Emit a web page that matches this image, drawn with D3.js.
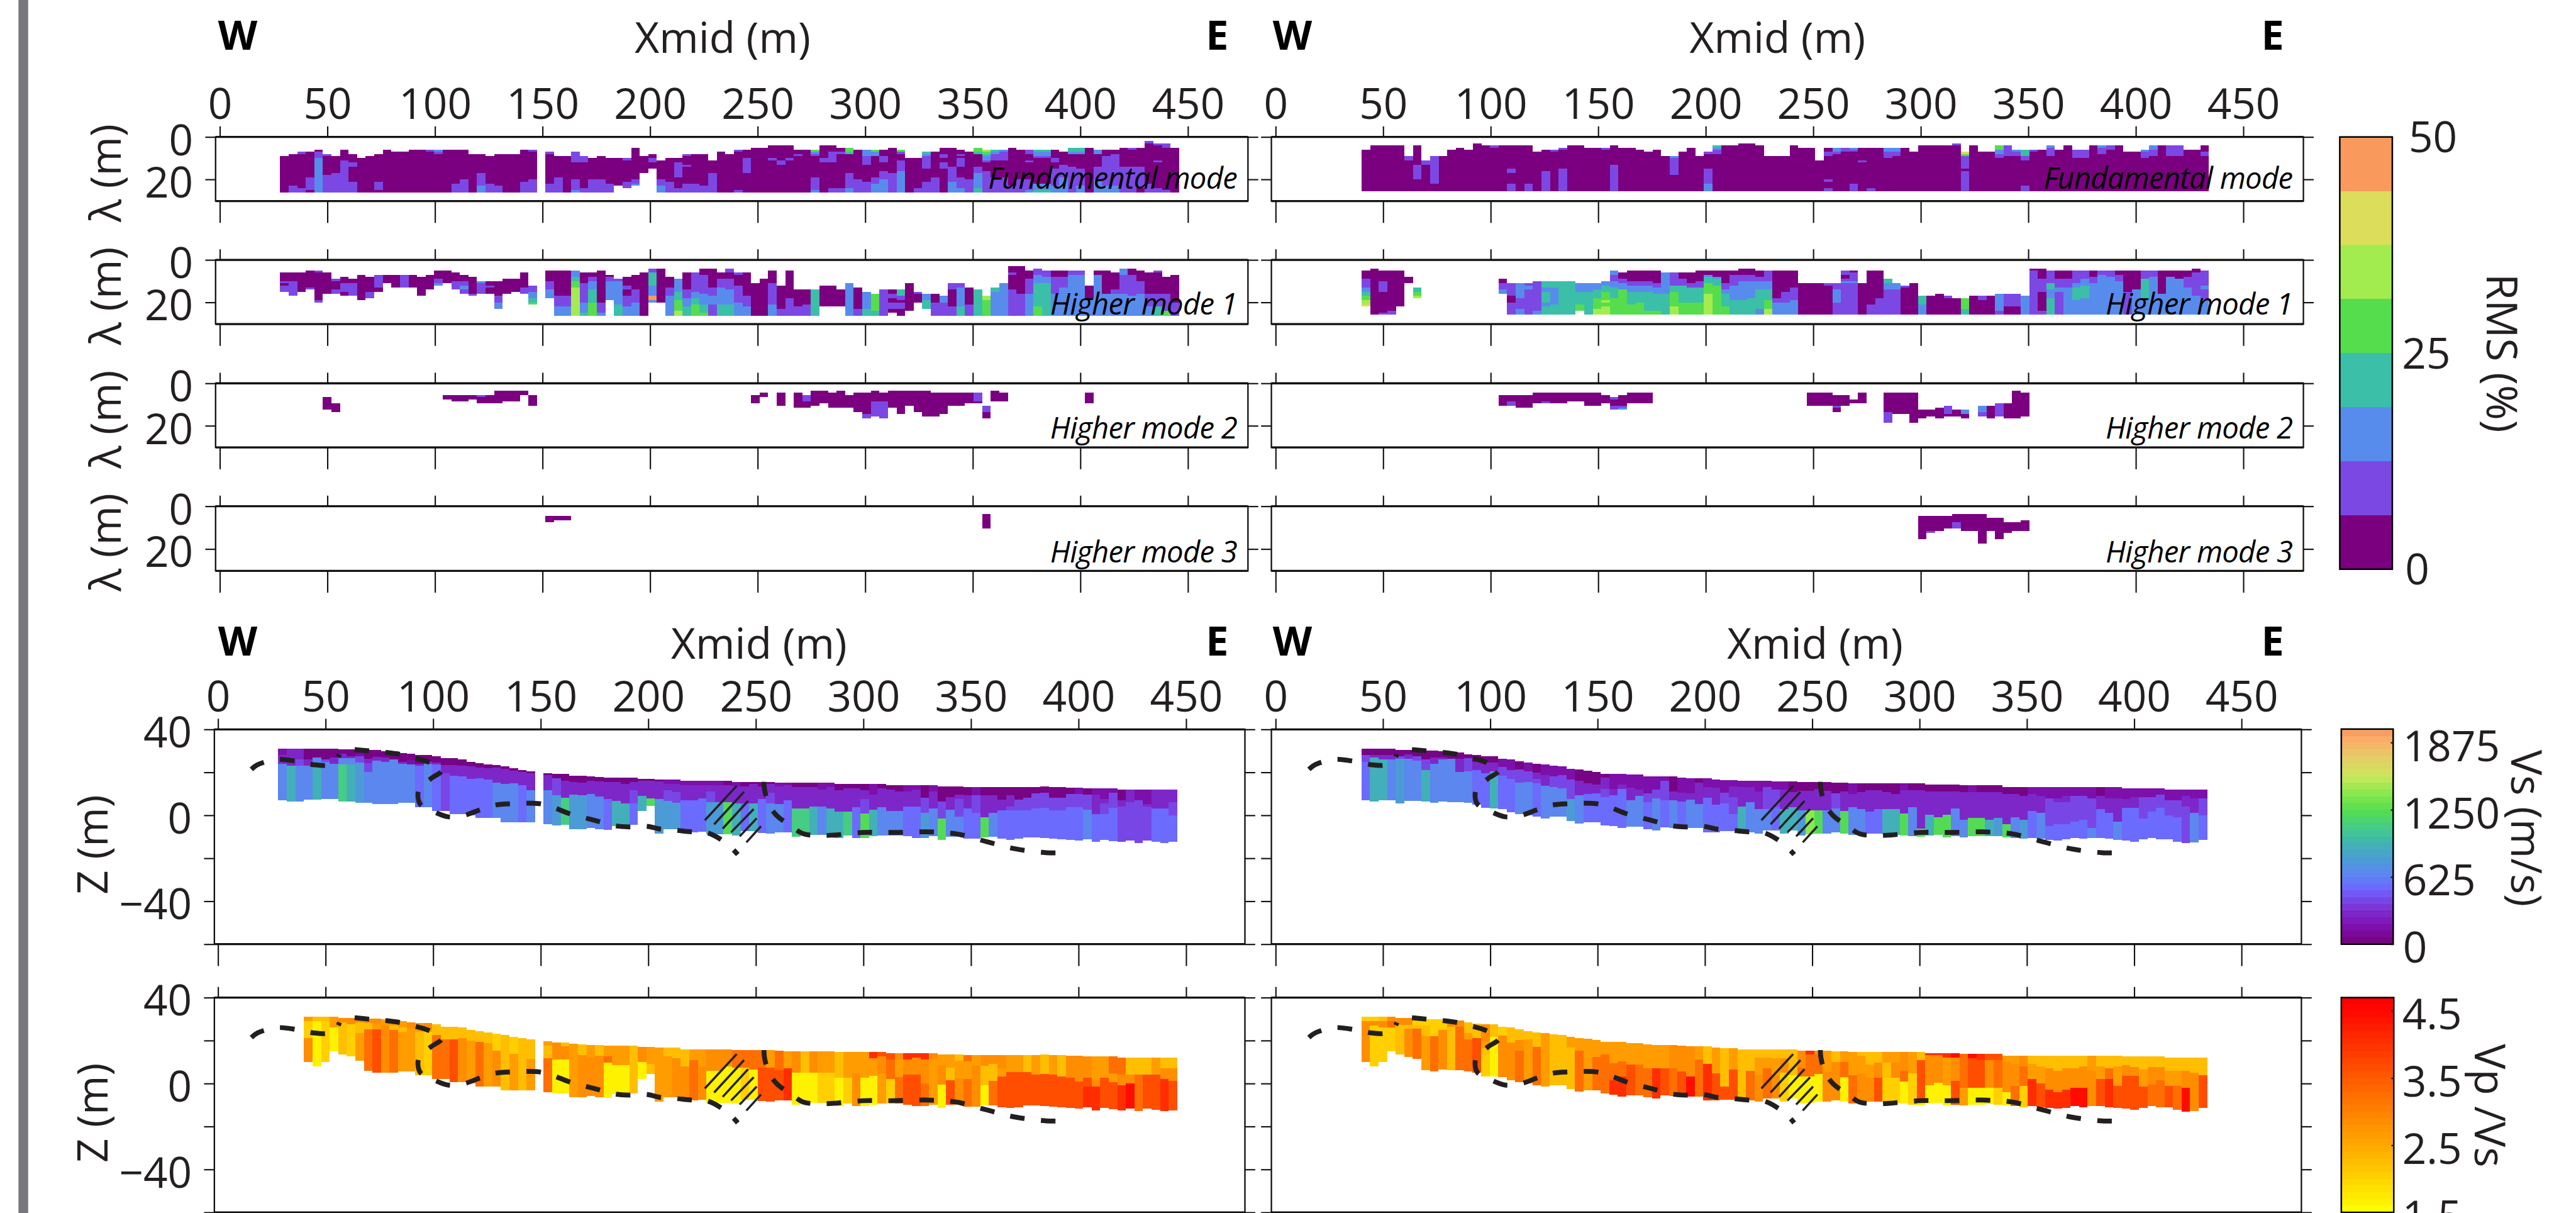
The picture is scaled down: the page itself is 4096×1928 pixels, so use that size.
<!DOCTYPE html>
<html>
<head>
<meta charset="utf-8">
<script src="https://d3js.org/d3.v7.min.js"></script>
<style>
  html, body { margin: 0; padding: 0; background: #fff; overflow: hidden; }
  text { font-family: "Open Sans", sans-serif; fill: #231f20; }
</style>
</head>
<body>
<div id="chart"></div>
<script>
////////
// Axis values and labels
let xTicks = [0, 50, 100, 150, 200, 250, 300, 350, 400, 450];
let lambdaTicks = [0, 20];
let zTicks = [40, 20, 0, -20, -40, -60];
let zLabels = [40, 0, -40];
let rmsTicks = [0, 25, 50];
let vsTicks = [0, 625, 1250, 1875];
let ratioTicks = [1.5, 2.5, 3.5, 4.5];

let rmsColors = ["#7a0080", "#7c48e4", "#588cec", "#3bbfa8", "#56dd4e", "#a3ec50", "#dddd5c", "#f99a5c"];
let vsStops = [0, 190, 380, 510, 660, 800, 960, 1120, 1240, 1400, 1560, 1760, 1920, 2000];
let vsStopColors = ["#76007c", "#7e12b4", "#7c3ee0", "#6e66ff", "#5a88ee", "#4a9ed4", "#3fb8ac", "#48d07c", "#56dd4e", "#88e84c", "#cce85c", "#e8c868", "#ffa868", "#f09a5c"];
let ratioStops = [1.5, 2.5, 3.5, 4.5, 4.7];
let ratioStopColors = ["#ffff00", "#ffa800", "#ff5a00", "#ff0800", "#ff0000"];

// Value of each letter used in the model columns below
let vsLetters = { a: 60, b: 170, c: 310, d: 420, e: 510, f: 640, g: 780, h: 930, i: 1090, j: 1240, k: 1400 };
let ratioLetters = { a: 1.6, b: 2.0, c: 2.3, d: 2.6, e: 2.9, f: 3.2, g: 3.6, h: 4.0, i: 4.4 };

////////
// Misfit cells, one string per column: "lambda:class ..." and x means empty.
// The class is the colour band of the RMS bar (0 to 7).
let fundW = ["9:0","8:0 23:1","7:1 8:0 24:1","7:0 19:1 25:0","6:0 7:1 10:2","8:1 9:0 18:1","9:0 17:1","6:0 11:1","8:0 12:1 14:0 21:1","10:0","9:0","8:0 21:1 25:0","6:0","7:0","7:0","6:0","6:0","6:1 7:0","6:2 7:1 8:0","6:0","6:0 22:1","6:0 20:1","8:0","8:0 17:1 23:2","9:0 22:1","8:0 23:1","8:0","8:0","6:0 21:1","6:1 7:0 20:1","","7:1 8:0 22:1","9:0 19:1","9:0","7:1 12:0 20:1 25:2","9:1 12:0 24:1","10:0 20:1","9:0 20:1","10:0 22:1","10:0 23:x","10:1 11:0 21:1 24:x","5:0 20:1 22:2 23:x","9:0 17:x","8:0 10:1 12:0 15:x","11:0 20:1 23:2","10:0 21:1","10:0 12:1 19:0 24:1","8:1 9:0 13:1 14:0 22:1","8:0 22:1","8:0 23:1","11:0 17:1","7:0","8:0","6:1 7:0 25:1","6:0 10:1 17:0","5:0","5:0","4:0 10:1 11:0","4:0 11:1 13:0","4:0 10:1 11:0","6:0 8:1 9:0","6:0","6:4 7:2 8:1 9:0 19:1 25:2","4:0 10:1 12:0","4:0 7:1 12:0 24:1","5:0 7:1 8:0 24:1","5:4 7:3 8:0 17:1 24:2","6:0 20:1","6:2 9:1 13:0 21:1","6:4 7:2 9:0 19:1 22:2","6:0 9:1 12:0 16:1 20:2","5:0 17:1","6:4 7:1 8:0 11:1 16:2","10:0","10:0 24:1","7:3 8:2 9:1 15:0 21:1","7:0 19:1","5:0 8:1 10:0 12:1 15:0","5:0 14:1 21:2","6:0 8:1 9:0 10:1 14:0 19:1 24:2","7:0 20:1","5:4 7:3 8:0 14:1 17:2 24:3","6:5 7:4 8:3 9:2 11:1 12:0 16:1","6:3 7:2 8:1 11:0 19:1","6:2 7:1 11:0 19:1","5:0 23:1","6:0 20:1","6:1 8:0 11:1 12:0 20:1 25:2","6:3 7:2 9:1 10:0 22:2 25:3","6:3 7:2 9:1 10:0 22:2 25:3","6:0 10:1 12:0 15:1 23:2","7:0 13:1 19:2","5:3 7:2 8:0 14:1","5:3 7:2 8:0 15:1 23:2","5:0","6:2 8:0 14:1 20:2","6:0 9:1 23:2","6:0 8:1 23:2","5:0 14:1","5:1 6:0 14:1 24:1","5:0 14:1 24:0","2:1 3:0 22:1","3:1 4:0 11:1 12:0 24:1","3:1 5:0 25:1","5:0"];
let fundE = ["6:0","4:0","4:0","4:0","4:0","9:1 11:0","4:0 13:1 20:0","11:1 13:0","9:1 22:0","9:0","6:0","5:0","6:0","3:0","4:0","4:1 5:0","4:0","4:0 15:1 17:0 22:1","4:0","4:0 22:1","7:0","6:0 16:1","6:1 7:0","5:1 6:0 15:1","4:0","4:0","5:0","5:0","5:1 6:0","4:0 13:1","5:0","5:0","6:0","7:0","6:0","9:0","9:2 10:1 18:0","7:0","5:0","9:0","7:1 8:0 15:1 22:2","4:3 5:2 6:1 8:0","4:0","4:0","3:0","3:0","4:0","9:0","9:0","9:0","4:0","5:0","5:0","11:0","5:0 7:1 9:0 20:1 21:0 24:1","5:2 7:1 8:0","5:1 7:0","5:2 6:1 7:0 22:1","5:0 11:1 12:0","5:0 24:1","5:0","5:2 7:1 10:0","5:2 7:1 9:0","5:0","7:0","4:0","4:0","4:0","4:0","3:1 4:0","7:6 8:4 9:1 15:0 16:1","4:0","7:0","7:0","4:4 6:2 8:1 10:0","4:1 9:0","6:2 7:1 9:0","6:3 9:1 11:0 23:1","6:1 7:0","6:0","4:2 5:1 9:0","6:0","4:0","6:1 10:0","6:1 10:0","4:0","4:2 5:1 8:0","4:1 6:0","4:0","7:0","7:0","6:2 7:1 10:0","4:2 6:1 9:0","4:0","4:1 9:0","4:1 9:0","6:0","6:0","4:0 7:1 9:0"];
let high1W = ["6:0 10:1 11:0 12:1 15:x","6:0 10:1 17:x","6:0 15:x","5:0 13:1 14:x","5:1 6:0 19:1 20:x","6:0 16:x","9:1 10:0 14:1 16:x","8:0 11:1 15:0 17:x","9:0 11:1 17:x","7:0 19:x","8:0 15:1 18:x","7:1 13:0 15:x","7:0 11:x","7:0 13:x","7:1 13:x","7:0 13:x","8:0 17:x","7:0 14:x","5:0 9:1 11:2 12:x","5:0 11:x","6:0 10:1 14:x","7:0 10:1 12:2 14:1 16:x","8:0 16:1 17:x","10:2 11:1 16:x","10:0 12:1 13:0 16:x","10:0 17:1 20:2 23:x","9:0 16:x","9:0 15:x","6:0 13:1 16:x","12:1 15:2 18:3 20:4 21:x","","5:0 10:1 14:2 18:x","5:0 17:1 22:2","5:0 17:1 22:2","5:2 8:3 10:4 13:5","6:0 11:1 20:2 25:3","6:0 8:1 10:2 14:3 20:4","5:0 20:1 25:2","7:0 8:1 10:2 19:x","9:1 10:2 21:3","8:0 12:1 14:0 17:1 22:2","7:0 14:1 20:2","6:0","4:1 6:3 12:2 17:7 19:2 20:x","4:0 20:x","8:0 13:1 17:2","9:2 15:3 19:4 24:5","6:0 14:1 18:2 22:3","6:1 15:2 18:3 21:4","4:0 7:1 16:2 21:3 25:4","4:0 13:1 17:2 21:1","6:0 9:1 13:2 21:3","4:1 6:0 9:1 14:2 21:3","6:1 7:0 12:1 20:2","6:0 17:1 22:2","11:0","9:0","5:0 11:1 21:2","12:0 23:1","5:0 18:1","14:0 22:1","14:0 21:1","14:3","12:0 22:x","12:0 22:x","14:0 22:x","11:2","13:0 23:1","15:2 23:3","16:4 24:3","14:1","14:0 16:1 18:0 20:1 23:0 25:x","14:3 17:1 19:0 20:1 23:0","11:0 24:x","15:1 16:0 20:x","16:2 19:3 23:x","16:0 20:1","17:2 20:1","11:1 14:0 22:1","11:1 13:2 22:3","13:0 21:1","14:3","17:5 19:4","13:3 15:2","11:2","3:0 6:1 7:0 14:1","3:0 16:1","5:0 9:1 16:2","4:1 7:2 11:3 22:4","5:1 8:2 11:3","5:0 8:1 16:2","5:0 8:1 13:2","5:1 7:2","5:1 7:2","12:0 18:2","5:0 7:2","5:0 16:2","6:0 14:1 16:2","4:2 7:1 16:2","4:0 7:1 17:2","5:0 10:1 16:2","6:0 16:1 22:2","5:1 6:0 16:1 22:3","8:0 16:1 24:4","7:0 20:1"];
let high1E = ["5:0 9:1 13:2 15:3 17:4 19:5 21:6 22:x","4:0","5:0 10:1 15:0 25:1","5:0 24:1","5:0 22:x","8:0 11:x","13:3 15:4 17:5 18:x","","","","","","","","","","9:0 11:1 14:2 16:x","11:1 17:0 20:1","11:2 18:1 23:2","11:1 12:2 14:1","10:1 24:2","10:3 13:2 15:3 20:2 22:3","10:3 13:2 21:3","10:3","10:3","11:2 15:3 21:4 24:x","11:2 15:3","11:2 14:3 18:4 23:5","10:2 12:3 15:4 19:5 20:4 22:5","5:2 7:1 10:2 13:3 18:4","6:0 9:1 11:2 14:4","5:0 10:1 12:2 15:3 21:4","5:0 10:1 12:2 15:3 20:4","5:0 10:1 12:2 15:3 24:4","5:0 11:1 13:2 16:3 24:4","6:2 16:3","6:1 8:1 12:3 15:4 22:5","6:0 9:1 12:3 20:4","6:0 11:1 13:3 20:4","5:0 10:1 13:3 20:4","5:0 7:2 8:3 11:4 16:5","5:0 8:2 9:3 12:4","5:0 11:1 14:2 16:3 22:4","5:0 7:1 12:2 19:3","4:0 7:1 10:2 19:3","4:0 7:1 10:2 18:3","5:0 8:1 10:2 14:3 23:2","5:1 10:2 14:3 19:4 23:5","5:0 18:1 20:2","5:0 15:1 20:2","5:0 13:1 19:2","11:0","11:0","11:0","11:1 12:0","11:1 14:2 20:1","5:1 7:0 9:1 10:2 11:1","5:0 6:1 10:2 11:1","11:0","5:0 21:1","5:0 18:1","9:3 11:2 14:1","11:2 14:1","12:1 13:0","11:0","17:3 21:2","17:0","16:0","17:1 18:0","18:0","18:4 23:3","17:0","17:1 19:0","17:0","16:2 24:1","16:1 22:0","16:1 22:0","17:2","4:0 5:1 14:1","4:0 9:1 15:0 24:1","5:1 11:3 14:2 18:3","5:0 9:1 13:2 15:1","5:0 9:1 13:2","5:1 11:2 13:3 19:2","5:1 9:2 12:3 18:2","5:0 8:1 11:2","5:1 7:2","5:1 8:2","5:0 7:1 10:2","5:0 15:1","5:0 14:2","5:1 9:3 19:2","5:1 8:2","5:0 16:2","5:0 8:2","5:0 9:2","5:0 8:1 13:2","4:0 6:1 17:2","5:1 12:2 14:1 19:2"];

// The sparse modes list [column, runs]
let high2W = [[5,"6.5:0 12.5:x"],[6,"9.5:0 13.5:x"],[19,"5.5:0 7.5:x"],[20,"5.5:0 8.5:x"],[21,"5.5:0 8.5:x"],[22,"5.5:0 7.5:x"],[23,"5.5:1 6.5:0 9.5:x"],[24,"5.5:0 9.5:x"],[25,"3.5:0 9.5:x"],[26,"3.5:0 8.5:x"],[27,"3.5:0 8.5:x"],[28,"3.5:0 5.5:x"],[29,"5.5:0 10.5:x"],[55,"5.5:0 9.5:x"],[56,"4.5:0 6.5:x"],[58,"4.5:0 10.5:x"],[60,"4.5:0 11.5:x"],[61,"5.5:1 8.5:0 11.5:x"],[62,"3.5:0 10.5:x"],[63,"3.5:0 9.5:x"],[64,"4.5:0 11.5:x"],[65,"3.5:0 11.5:x"],[66,"5.5:0 11.5:x"],[67,"4.5:0 13.5:x"],[68,"4.5:0 14.5:1 16.5:x"],[69,"3.5:0 8.5:1 15.5:x"],[70,"4.5:0 8.5:1 16.5:x"],[71,"3.5:0 11.5:x"],[72,"3.5:0 14.5:x"],[73,"3.5:0 10.5:x"],[74,"3.5:0 13.5:x"],[75,"3.5:0 15.5:x"],[76,"4.5:0 15.5:x"],[77,"4.5:0 14.5:x"],[78,"4.5:0 10.5:x"],[79,"4.5:0 10.5:x"],[80,"4.5:0 9.5:x"],[81,"4.5:1 8.5:0 9.5:x"],[82,"10.5:1 13.5:0 16.5:x"],[83,"3.5:0 8.5:x"],[84,"4.5:0 8.5:x"],[94,"4.5:0 9.5:x"]];
let high2E = [[16,"5.5:0 10.5:x"],[17,"5.5:0 8.5:1 10.5:x"],[18,"5.5:0 11.5:x"],[19,"5.5:0 11.5:x"],[20,"4.5:0 9.5:x"],[21,"4.5:0 8.5:1 9.5:x"],[22,"4.5:0 9.5:x"],[23,"4.5:0 9.5:x"],[24,"4.5:0 8.5:x"],[25,"4.5:0 8.5:x"],[26,"4.5:0 10.5:x"],[27,"4.5:0 10.5:x"],[28,"5.5:0 9.5:x"],[29,"6.5:1 7.5:0 10.5:1 12.5:x"],[30,"5.5:0 10.5:1 11.5:2 12.5:x"],[31,"4.5:0 9.5:x"],[32,"4.5:0 9.5:x"],[33,"4.5:0 9.5:x"],[52,"4.5:0 10.5:x"],[53,"4.5:0 10.5:x"],[54,"4.5:0 10.5:x"],[55,"5.5:0 10.5:1 11.5:0 13.5:x"],[56,"5.5:0 10.5:x"],[57,"7.5:0 9.5:x"],[58,"4.5:0 9.5:x"],[61,"4.5:0 13.5:1 18.5:x"],[62,"4.5:0 14.5:x"],[63,"4.5:0 14.5:x"],[64,"4.5:0 18.5:x"],[65,"12.5:0 16.5:x"],[66,"12.5:0 15.5:x"],[67,"11.5:0 16.5:x"],[68,"10.5:1 14.5:0 15.5:x"],[69,"12.5:0 15.5:x"],[70,"12.5:2 14.5:0 16.5:x"],[72,"10.5:2 13.5:1 15.5:x"],[73,"10.5:0 16.5:x"],[74,"9.5:1 15.5:x"],[75,"9.5:0 16.5:x"],[76,"3.5:0 16.5:x"],[77,"4.5:0 15.5:x"]];
let high3W = [[31,"4.5:0 7.5:x"],[32,"4.5:0 6.5:x"],[33,"4.5:0 6.5:x"],[82,"3.5:0 10.5:x"]];
let high3E = [[65,"4.5:0 15.5:x"],[66,"4.5:0 11.5:1 12.5:x"],[67,"4.5:0 11.5:x"],[68,"4.5:0 10.5:x"],[69,"3.5:0 7.5:1 10.5:x"],[70,"3.5:0 11.5:x"],[71,"3.5:0 11.5:x"],[72,"3.5:0 17.5:x"],[73,"5.5:0 11.5:x"],[74,"5.5:0 15.5:x"],[75,"7.5:0 12.5:x"],[76,"7.5:0 11.5:x"],[77,"6.5:0 11.5:x"]];

////////
// Model columns: elevation of top and bottom, then layers as depth+letter
let topW = [31,31,31,31,31,31,31,30.6,30.6,30.6,30.3,30.3,29.9,29.9,29,28.6,28.1,28.1,27.6,26.5,26.5,26,24.9,24.3,23.8,23.3,22.7,21.8,21.1,20.6,0,19.7,19.2,19.2,18.5,18.3,18,17.8,17.6,17.6,17.6,17.6,17,17,16.7,16.7,16.7,16,16,16,16,16,16,15.5,15.5,15.5,15.5,15.5,15.3,15.1,15.1,15.1,15.1,15.1,15.1,14.7,14.7,14.7,14.7,14.7,14.7,14.1,14.1,14.1,14.1,14.1,14.1,13.5,13.5,13.5,13.2,13.2,13.2,13.2,13.2,13.2,13.2,13.2,13.2,13.4,13.2,13.2,12.8,12.8,12.6,12.6,12.6,12.6,12.1,12.1,12.1,12.1,12.1,12.1,12.1];
let botW = [7,6.5,6.5,7.2,7.2,7.7,7.7,6.3,6.5,5.8,5.8,5.1,5.1,5.1,5.7,5.7,3.9,3.8,2,2,0.6,0.6,0,-1.3,-1.3,-1.3,-3.3,-3.3,-3.3,-3.3,0,-4,-4.7,-4.5,-6.5,-6.5,-5.8,-6.5,-6.8,-5,-4.5,-4.5,2,4.3,-8.4,-6.5,-6.5,-8,-8,-7.7,-8.9,-8.9,-8.9,-9.3,-7.5,-7.5,-8.2,-8.4,-8,-8,-9.9,-9.4,-9,-9,-10.3,-10.5,-9.4,-10.5,-10.5,-9.8,-9.4,-9.4,-9.4,-9.8,-10.5,-10.5,-9.8,-11.4,-9.9,-9.9,-10.9,-10.9,-10.3,-10.1,-11,-11.4,-11,-10.3,-10.3,-10.5,-10.9,-11.2,-11.4,-11.8,-11.2,-12.4,-11.4,-12,-12.4,-11.7,-12.9,-11.8,-12.2,-12.9,-12.4];
let topE = [31,31,31,31,30.4,30.4,30.4,30,30,29.9,29.3,29.3,28.5,28,27.6,27.6,26.4,26,25.2,24.5,23.9,23.6,23,22.7,21.7,21.2,20.8,20.3,19.4,19.4,19.4,18.9,18.9,18.1,18,18,18,17.5,17.2,17.2,17.2,16.8,16.5,16.5,16,16,16,16,15.9,15.9,15.9,15.4,15.4,15.4,15.4,15.1,15.1,14.8,14.8,14.8,14.8,14.8,14.8,14.8,14.8,14.8,14.2,14.2,14.2,14.2,13.9,13.9,13.9,13.9,13.9,13,13,13,13,13,13,13,13,13,13,13,13,13,13,12.6,12.6,12.6,12.6,12.6,12,12,12,12,12];
let botE = [7,6.5,7,7,5.6,6.6,6.6,6.3,5.7,6.5,6.2,6.2,5.7,5,3.4,3.2,2.9,1.4,0.5,0,-0.7,-1.4,-0.7,-0.7,-2.6,-3.9,-3.3,-3.3,-4.6,-5.1,-6,-5.4,-5.4,-6.5,-7.1,-5.6,-5.8,-5.8,-6,-6,-8,-8,-7.5,-7.5,-8.4,-8,-8.4,-7.1,-7.1,-8.4,-7.1,-9.4,-8.9,-8.4,-8.4,-8,-8.4,-9.2,-8.4,-8.4,-8.4,-8.7,-9,-9.3,-9.8,-10.1,-9.3,-9,-10.3,-9.8,-10.3,-9.8,-9.8,-9.6,-9.8,-10.3,-10.6,-11,-10.6,-11,-11.4,-11.7,-11.3,-10.6,-11,-10.6,-10.6,-11,-11.4,-11.7,-12.2,-11.3,-10.6,-11.1,-11.1,-12.2,-13,-12.7,-11.4];

let vsW = ["0b 3c 7f","0c 8h","0c 5d 8f","0a 5c 8f","0a 4f 7h","0a 5d 6f","0a 4c 7f","0a 2c 4f 7i","0a 3c 4f 7h","0a 2b 3d 6g","0a 4c 6d 10f","0a 3c 5f","0a 3c 5f","0a 4f","0a 4c 5f","0a 3b 5f","0a 4c 5e","0a 3c 4f","0a 3c 4e","0a 3c 7d","0a 3c 8e","0a 3c 6c 8e","0a 2c 8e","0a 2c 7e","0a 2c 7e","0a 1c 8f","0a 1c 8f","0a 1c 7f","0a 1c 7e","0a 1c 9f","","0a 1c 8f","0a 2d 10g","0a 3c 11i","0a 3c 9g","0a 3c 9g","0a 2c 8f","0a 2c 9f","0a 2c 10e","0a 2c 11h","0a 3c 12h","0a 2c 6d 12e","0a 1c 8h","0a 1c 9j","0a 1c 9g","0b 2c 5d 10g","0b 2c 6d 11g","0b 2c 9e","0b 2c 9e","0b 2c 8e","0b 2c 5d 10g","0b 2c 10g","0a 2c 10j","0b 2c 10h","0a 2c 10e","0a 1c 10h","0a 2c 8e","0a 1c 5d 10f","0b 2c 10f","0b 1c 8e","0a 2c 12i","0a 2c 12i","0a 2c 11h","0b 3c 11f","0b 2c 12h","0a 3c 13h","0a 2c 13i","0a 2c 11e","0a 3c 7d 14j","0b 5c 12h","0a 2c 11f","0a 2c 12f","0a 3c 12f","0b 3c 10e","0b 2c 10e","0a 6d 13g","0b 3c 11f","0a 7d 15j","0a 5c 11f","0a 4c 6d 14f","0a 4c 10e","0b 4d 12e","0a 4c 14j","0a 4c 12f","0a 6c 11e","0a 4c 9d 11e","0a 6d 11e","0a 5d 11e","0a 3d 10e","0a 3d 10e","0a 5d 11e","0a 5d 11e","0a 3d 9e","0b 3d 9e","0a 3d 10f","0b 3c 12e","0b 5c 7d 12e","0b 2d 9e","0a 5c 8d","0c 6d","0b 5d","0b 7c 8d","0c 9e","0c 9e","0c 6d 12e"];
let vsE = ["0a 3d 6e","0a 3c 4h","0a 3c 5h","0a 3c 5f","0a 3d 4g","0a 2c 4f","0a 3d 5f","0a 4d 9h","0a 3c 6f","0a 3c 4f","0a 3f","0a 3c 9f","0a 2d 8f","0a 3c 7e","0a 3c 8e","0a 3c 7h","0b 4d 8e","0b 5d 9e","0a 4d 10f","0b 4d 9f","0a 4c 7d 9e","0b 5c 10f","0b 5d 10f","0b 4d 10f","0b 5d 14g","0a 5c 12f","0a 6c 11e","0a 6c 10e","0a 2c 7d 11e","0b 7c 10e","0b 5c 7e","0b 6c 12f","0b 7c 10f","0b 8d 12e","0b 6d 10f","0b 2d 11e","0a 7c 11f","0b 7c 11e","0b 7c 10f","0a 2c 12f","0b 4c 9e","0b 4c 12e","0b 6d 11e","0b 3c 8d 16e","0b 3c 12h","0b 3c 10f","0b 5c 13f","0b 3d 13f","0b 4d 12e","0b 4c 13h","0a 5c 12h","0a 4c 13g","0a 4c 13k","0a 3c 13j","0a 4c 13f","0a 5d 12f","0a 4c 13j","0b 5c 11f","0a 4c 12f","0a 3c 13e","0a 3c 12e","0a 4c 12h","0a 5c 12h","0b 3c 14j","0a 3c 11f","0a 3c 21j","0a 3c 14h","0a 3c 15j","0a 3c 14j","0a 3c 11f","0a 3c 16f","0b 3c 15j","0a 3c 15j","0a 3c 16h","0a 3c 15g","0a 3c 17j","0a 3c 14f","0a 4c 15g","0b 3c 11e","0b 4c 12f","0b 5d 18e","0b 5c 7d 17e","0b 4c 7d 17e","0b 4d 16e","0b 4d 15e","0b 5d 19f","0a 4c 10e","0b 5c 12e","0b 5c 16f","0b 5c 9e","0b 4c 9e","0b 4d 14e","0b 4d 11e","0b 3d 9e","0b 5d 12e","0b 5d 13e","0b 3c 8d","0b 4c 11f","0b 4d 12e"];
let ratioW = ["","","","0d 2b 10e 21x","0c 2a 23x","0c 2b 21x","0d 5a 16x","0e 2c 17x","0e 3b 18x","0e 2c 7d 20x","0e 2c 5f","0e 2d 5g","0d 3e","0d 3c 5f","0d 3c 5d","0e 3d","0d 4c","0e 3d 4b","0c 5f","0c 6f","0c 6g","0c 5e","0c 5d","0c 5f","0c 5d","0b 8e","0c 6c","0b 8d","0c 8c","0c 9d","","0d 2c 8f","0e 2e 8a","0c 2e 8a","0d 5d","0c 5e","0d 6e","0c 5e","0d 5f 8a","0d 5d 9a","0d 9a","0c 9c","0e 7a","0d 8c","0d 4d","0c 4d","0c 5e","0c 8e","0d 5f","0d 8e","0e 5e 10a","0e 7e 10a","0e 8a","0f 8a","0f 8b","0f 9a","0f 8g","0d 8g","0f 9g","0d 8h","0e 10a","0c 10a","0e 10a","0d 10b","0d 10b","0c 12a","0d 12b","0d 10e","0d 12a","0h 3d 11a","0g 2e 10d","0g 3f 12b","0e 3d 11f","0h 3e 10g","0h 2e 10g","0h 3e 14f","0e 3d 11d","0d 5e 14a","0d 6c 12g","0c 3d 11e","0f 3d 11f","0d 5e 12e","0e 5c 14a","0e 4c 12f","0e 6d 10g","0d 8g","0d 8g","0c 8g","0d 9g","0c 9g","0d 9g","0c 10g","0e 10g","0e 12g","0e 10g 14h","0d 11e 14h","0d 10g","0f 8d 12g","0f 8e 13h","0c 8e 12i","0c 8f","0c 8g","0d 8g","0c 5e 10h","0c 5e 11g"];
let ratioE = ["0b 2e 21x","0b 2e 4b 23x","0c 2e 5b 21x","0e 2f 5b 16x","0e 3c 17x","0e 3c 5e 18x","0b 3c 5f 19x","0b 3c 8d","0b 6b 8f","0b 5e","0e 3c","0e 3f","0c 5d 8f","0c 7g","0e 8d 11c 14b","0c 6a","0b 4e","0c 7e","0c 5e 10f","0c 4d","0c 7f","0d 7d","0c 9c","0c 9c","0d 5c","0d 6f","0d 7d","0d 8f","0d 6f","0d 4d 10f 18h","0d 9f 16h","0d 10g","0d 10f","0d 11f","0d 11h","0d 11g","0e 11f","0e 12g","0e 14i","0d 6f","0c 8h","0d 12g","0c 18g","0d 10g","0c 12c","0c 10f","0c 4d 12e","0c 4d 9f","0c 4d 12e","0c 4e 11b","0c 12a","0e 8f 12a","0h 2f 12a","0e 2f 11a","0d 10e","0c 5e","0d 5f 12a","0d 3d 11f","0c 2d 10e","0c 6d 12e","0c 5e 12g","0d 5c 12b","0d 5e 12b","0e 9f 14a","0d 2d 10b","0c 4g 22a","0h 1e 15a","0h 1e 14a","0h 2d 15a","0i 2e 13g","0f 4f 16d","0i 2g 16a","0h 3g 16a","0g 3e 16a","0g 3f 16b","0d 3e 17a","0d 4e 14f","0e 5f 14b","0c 4d 11h","0c 5d 13g","0c 6e 16h","0c 7e 17h","0c 6e 16h","0c 6e 15i","0c 5e 15i","0d 7e","0c 5d 11g","0c 6f 11h","0c 5d 14g","0c 4e 9g","0c 5e 9g","0c 6d 14g","0c 5e 13f","0c 5e 11f","0c 6d 13g","0c 6d 13f","0c 6e 14i","0c 7e","0c 8g"];

////////
// Interpreted interface, as [x, z] points, and the hatched fault as [x1, z1, x2, z2]
let interfaceA = [[15.5,21.4],[18.5,23.6],[27.4,26],[37.3,25],[44.2,23.6],[51,23.4],[55,25.7],[56.5,28.4]];
let interfaceB = [[63.5,30.6],[70,30],[77,29.4],[84,28.5],[91,26.8],[98,24.7],[104,20.9],[99,17.1],[94,12.8],[93,10.6],[94,5.2],[101,1.4],[107,-0.7],[114.5,0],[121.6,2.5],[128.5,4.7],[136.5,5.4],[149.4,5.4],[156,3.6],[163,0.9],[171,-1.3],[177,-2.9],[184,-4.8],[191,-5.4],[199,-5.1],[206,-6.5],[213,-7],[220,-7.7],[227,-8],[233.7,-11.2],[239,-15.5],[241.6,-18.3]];
let interfaceC = [[253.8,15.6],[254,12.3],[256,5.2],[260,-0.4],[266,-4.6],[272,-8.6],[280,-9.4],[286,-9.2],[300,-8],[314,-8],[329,-7.7],[343,-8.6],[357,-12.2],[370,-15.5],[385,-17.4],[396,-17.4]];
let hatch = [[226.3,-2.3,241.1,13.7],[230.6,-4.2,244.5,10.9],[234.6,-6.2,246.4,6.7],[238.5,-7.9,249,2.9],[242.5,-9.8,250.4,-1.4],[245.6,-12.6,252.4,-5.1]];

////////
// SVG canvas, drawn in the coordinates of the full size figure
let fullW = 4246, fullH = 1999;
let svg = d3.select("#chart").append("svg")
  .attr("width", 4096)
  .attr("height", 1928)
  .attr("viewBox", `0 0 ${fullW} ${fullH}`)
  .style("display", "block");

svg.append("rect").attr("x", 30).attr("y", 0).attr("width", 16).attr("height", fullH).attr("fill", "#77777b");

let fontSize = 70;
let colStep = 3.98;
let startW = 28, startE = 40;

// column frames and x scales, misfit rows and model rows
let lamColW = { left: 355, right: 2057, x0: 362, x450: 1958, labels: true };
let lamColE = { left: 2095.6, right: 3797, x0: 2102.6, x450: 3698, labels: false };
let modColW = { left: 353, right: 2052, x0: 359, x450: 1955, labels: true };
let modColE = { left: 2095.6, right: 3793.7, x0: 2102.6, x450: 3695, labels: false };

let rmsValue = d3.scaleQuantize().domain([0, 50]).range(rmsColors);
let vsColor = d3.scaleLinear().domain(vsStops).range(vsStopColors);
let ratioColor = d3.scaleLinear().domain(ratioStops).range(ratioStopColors);
function stepped(scale, lo, hi, n) {
  return v => scale(lo + (Math.min(Math.floor((v - lo) / (hi - lo) * n), n - 1) + 0.5) * (hi - lo) / n);
}
let vsStep = stepped(vsColor, 0, 2000, 32);
let ratioStep = stepped(ratioColor, 1.5, 4.7, 32);

function styleAxis(g) {
  g.select(".domain").remove();
  g.selectAll(".tick line").attr("stroke", "#111").attr("stroke-width", 2.2);
  g.selectAll("text").attr("font-size", fontSize).attr("fill", "#231f20")
    .attr("font-family", '"Open Sans", sans-serif');
}

// frame, ticks on all four sides, labels only where asked
function drawFrame(col, top, bottom, x, y, yTickVals, yLabelVals, showX) {
  let g = svg.append("g");
  g.append("rect").attr("x", col.left).attr("y", top)
    .attr("width", col.right - col.left).attr("height", bottom - top)
    .attr("fill", "none").attr("stroke", "#111").attr("stroke-width", 2.4);
  [top, bottom].forEach(v => {
    g.append("line").attr("x1", col.left).attr("x2", col.right).attr("y1", v).attr("y2", v)
      .attr("stroke", "#111").attr("stroke-width", 3.4);
  });

  let axTop = g.append("g").attr("transform", `translate(0,${top})`)
    .call(d3.axisTop(x).tickValues(xTicks).tickSize(17.5).tickPadding(12)).call(styleAxis);
  if (!showX) axTop.selectAll("text").remove();
  g.append("g").attr("transform", `translate(0,${bottom})`)
    .call(d3.axisBottom(x).tickValues(xTicks).tickSize(36).tickFormat("")).call(styleAxis);

  let axLeft = g.append("g").attr("transform", `translate(${col.left},0)`)
    .call(d3.axisLeft(y).tickValues(yTickVals).tickSize(17).tickPadding(20)
      .tickFormat(d => String(d).replace("-", "\u2212")))
    .call(styleAxis);
  axLeft.selectAll("text").attr("dy", "0.42em");
  axLeft.selectAll("text").filter(d => !col.labels || !yLabelVals.includes(d)).remove();
  g.append("g").attr("transform", `translate(${col.right},0)`)
    .call(d3.axisRight(y).tickValues(yTickVals).tickSize(17).tickFormat("")).call(styleAxis);
}

////////
// Misfit panels: one rect per run of a column
function drawRms(col, top, bottom, entries, start, lamBottom, title, titleDrop) {
  let x = d3.scaleLinear().domain([0, 450]).range([col.x0, col.x450]);
  let y = d3.scaleLinear().domain([0, 30.2]).range([top, bottom]);
  let cells = [];
  entries.forEach(([c, runs]) => {
    if (!runs) return;
    let parts = runs.split(" ").map(t => t.split(":"));
    parts.forEach((p, k) => {
      if (p[1] === "x") return;
      let end = k + 1 < parts.length ? +parts[k + 1][0] : lamBottom;
      cells.push({ c: c, from: +p[0], to: end, band: +p[1] });
    });
  });
  svg.append("g").selectAll("rect").data(cells).enter().append("rect")
    .attr("x", d => x(start + d.c * colStep))
    .attr("y", d => y(d.from))
    .attr("width", d => x(start + (d.c + 1) * colStep) - x(start + d.c * colStep))
    .attr("height", d => y(d.to) - y(d.from))
    .attr("fill", d => rmsValue((d.band + 0.5) * 6.25))
    .attr("shape-rendering", "crispEdges");

  let isFirst = top < 300;
  drawFrame(col, top, bottom, x, y, lambdaTicks, lambdaTicks, isFirst);
  svg.append("text").attr("x", col.right - 18).attr("y", top + titleDrop)
    .attr("text-anchor", "end").attr("font-size", 49).attr("font-style", "italic")
    .attr("letter-spacing", -0.8).style("fill", "#000").text(title);
}

////////
// Model panels: layers hung below the surface of each column
function drawModel(col, top, bottom, layers, tops, bots, start, letters, colorOf, showX) {
  let x = d3.scaleLinear().domain([0, 450]).range([col.x0, col.x450]);
  let y = d3.scaleLinear().domain([40, -60]).range([top, bottom]);
  let cells = [];
  layers.forEach((runs, c) => {
    if (!runs) return;
    let parts = runs.split(" ").map(t => ({ d: parseFloat(t), k: t.slice(-1) }));
    parts.forEach((p, k) => {
      if (p.k === "x") return;
      let next = k + 1 < parts.length ? tops[c] - parts[k + 1].d : bots[c];
      cells.push({ c: c, from: tops[c] - p.d, to: Math.max(next, bots[c]), v: letters[p.k] });
    });
  });
  svg.append("g").selectAll("rect").data(cells).enter().append("rect")
    .attr("x", d => x(start + d.c * colStep))
    .attr("y", d => y(d.from))
    .attr("width", d => x(start + (d.c + 1) * colStep) - x(start + d.c * colStep))
    .attr("height", d => y(d.to) - y(d.from))
    .attr("fill", d => colorOf(d.v))
    .attr("shape-rendering", "crispEdges");

  let line = d3.line().x(d => x(d[0])).y(d => y(d[1])).curve(d3.curveCatmullRom);
  [interfaceA, interfaceB, interfaceC].forEach(pts => {
    svg.append("path").attr("d", line(pts)).attr("fill", "none")
      .attr("stroke", "#231f20").attr("stroke-width", 8).attr("stroke-dasharray", "24 27");
  });
  svg.append("g").selectAll("line").data(hatch).enter().append("line")
    .attr("x1", d => x(d[0])).attr("y1", d => y(d[1]))
    .attr("x2", d => x(d[2])).attr("y2", d => y(d[3]))
    .attr("stroke", "#231f20").attr("stroke-width", 3.6);

  drawFrame(col, top, bottom, x, y, zTicks, zLabels, showX);
}

let lamRows = [[225.7, 331.3], [428.3, 534], [631.7, 737.3], [834.3, 940.7]];
let modeTitles = ["Fundamental mode", "Higher mode 1", "Higher mode 2", "Higher mode 3"];
let titleDrops = [85, 90, 91, 93];
let denseW = [fundW, high1W].map(a => a.map((s, i) => [i, s]));
let denseE = [fundE, high1E].map(a => a.map((s, i) => [i, s]));
let westModes = [denseW[0], denseW[1], high2W, high3W];
let eastModes = [denseE[0], denseE[1], high2E, high3E];

lamRows.forEach((r, i) => {
  drawRms(lamColW, r[0], r[1], westModes[i], startW, 26.2, modeTitles[i], titleDrops[i]);
  drawRms(lamColE, r[0], r[1], eastModes[i], startE, 25.6, modeTitles[i], titleDrops[i]);
  svg.append("text").attr("transform", `translate(198.5,${r[0] + 59.5}) rotate(-90)`)
    .attr("text-anchor", "middle").attr("font-size", fontSize).text("\u03bb (m)");
});

drawModel(modColW, 1202, 1556, vsW, topW, botW, startW, vsLetters, vsStep, true);
drawModel(modColE, 1202, 1556, vsE, topE, botE, startE, vsLetters, vsStep, true);
drawModel(modColW, 1644, 1998, ratioW, topW, botW, startW, ratioLetters, ratioStep, false);
drawModel(modColE, 1644, 1998, ratioE, topE, botE, startE, ratioLetters, ratioStep, false);

[1392, 1834].forEach(cy => {
  svg.append("text").attr("transform", `translate(177,${cy}) rotate(-90)`)
    .attr("text-anchor", "middle").attr("font-size", fontSize).text("Z (m)");
});

////////
// West, East and axis headers
let headers = [
  { base: 81.7, w: 359, e: 2025, mid: 1191 },
  { base: 81.7, w: 2098, e: 3765, mid: 2930 },
  { base: 1080.4, w: 359, e: 2025, mid: 1251 },
  { base: 1080.4, w: 2098, e: 3765, mid: 2992 }
];
headers.forEach(h => {
  svg.append("text").attr("x", h.w).attr("y", h.base).attr("font-size", 67).attr("font-weight", 700)
    .style("fill", "#000").text("W");
  svg.append("text").attr("x", h.e).attr("y", h.base).attr("text-anchor", "end").attr("font-size", 67)
    .attr("font-weight", 700).style("fill", "#000").text("E");
  svg.append("text").attr("x", h.mid).attr("y", h.base + 5.6).attr("text-anchor", "middle")
    .attr("font-size", fontSize).text("Xmid (m)");
});

////////
// Colour bars
function drawBar(left, right, top, bottom, domain, n, colorOf, ticks, fmt, pad, dy) {
  let y = d3.scaleLinear().domain(domain).range([bottom, top]);
  let w = (domain[1] - domain[0]) / n;
  svg.append("g").selectAll("rect").data(d3.range(n)).enter().append("rect")
    .attr("x", left).attr("width", right - left)
    .attr("y", d => y(domain[0] + (d + 1) * w))
    .attr("height", d => y(domain[0] + d * w) - y(domain[0] + (d + 1) * w))
    .attr("fill", d => colorOf(domain[0] + (d + 0.5) * w))
    .attr("shape-rendering", "crispEdges");
  svg.append("rect").attr("x", left).attr("y", top).attr("width", right - left).attr("height", bottom - top)
    .attr("fill", "none").attr("stroke", "#000").attr("stroke-width", 2.6);
  let ax = svg.append("g").attr("transform", `translate(${right},0)`)
    .call(d3.axisRight(y).tickValues(ticks).tickSizeInner(-4).tickSizeOuter(0).tickPadding(pad).tickFormat(fmt))
    .call(styleAxis);
  ax.selectAll("text").attr("dy", dy);
  return ax;
}

let rmsAxis = drawBar(3857, 3943.6, 225.7, 938, [0, 50], 8, rmsValue, rmsTicks, d3.format("d"), 21, "0.36em");
rmsAxis.selectAll(".tick line").remove();
rmsAxis.selectAll("text").attr("x", d => d === 50 ? 27 : d === 25 ? 16 : 21);
drawBar(3859.5, 3945, 1201.5, 1556, [0, 2000], 32, vsStep, vsTicks, d3.format("d"), 16, "0.43em");
drawBar(3859.5, 3946, 1644, 1998, [1.5, 4.7], 32, ratioStep, ratioTicks, d3.format(".1f"), 14, "0.43em");

svg.append("text").attr("transform", "translate(4099,582) rotate(90)").attr("text-anchor", "middle")
  .attr("font-size", fontSize).text("RMS (%)");
svg.append("text").attr("transform", "translate(4140,1365) rotate(90)").attr("text-anchor", "middle")
  .attr("font-size", fontSize).text("Vs (m/s)");
svg.append("text").attr("transform", "translate(4080,1822) rotate(90)").attr("text-anchor", "middle")
  .attr("font-size", fontSize).text("Vp /Vs");
</script>
</body>
</html>
